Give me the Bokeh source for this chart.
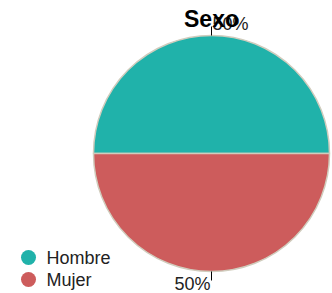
import math
from bokeh.plotting import figure
from bokeh.models import Range1d, ColumnDataSource
from bokeh.core.properties import value
from bokeh.embed import file_html
from bokeh.resources import INLINE

title = "Sexo"
categories = ["Hombre", "Mujer"]
shares = [50, 50]
colors = ["#20B2AA", "#CD5C5C"]

W, H = 332, 293
p = figure(width=W, height=H, output_backend="svg", toolbar_location=None,
           x_range=Range1d(0, W), y_range=Range1d(0, H), min_border=0)
p.axis.visible = False
p.grid.visible = False
p.outline_line_color = None
p.background_fill_color = None
p.border_fill_color = "white"

FONT = "Liberation Sans"
cx, cy, r = 211, 140, 118

total = sum(shares)
starts, ends, acc = [], [], 0.0
for s in shares:
    starts.append(math.pi - 2 * math.pi * acc / total)
    acc += s
    ends.append(math.pi - 2 * math.pi * acc / total)
src = ColumnDataSource(dict(x=[cx] * len(shares), y=[cy] * len(shares),
                            start=ends, end=starts, color=colors))
p.wedge(x="x", y="y", radius=r, start_angle="start", end_angle="end",
        fill_color="color", line_color="#d0ccbd", line_width=1.5, source=src)

# percentage labels with ticks
tx0, ty0, tx1, ty1, lx, ly, lt, al, bl = [], [], [], [], [], [], [], [], []
for s, a0, a1 in zip(shares, starts, ends):
    mid = (a0 + a1) / 2
    ux, uy = math.cos(mid), math.sin(mid)
    tx0.append(cx + r * ux); ty0.append(cy + r * uy)
    tx1.append(cx + (r + 9) * ux); ty1.append(cy + (r + 9) * uy)
    lx.append(cx + (1 if uy > 0 else -1)); ly.append(cy + (r + 2) * uy)
    lt.append(f"{s}%")
    al.append("left" if uy > 0 else "right")
    bl.append("bottom" if uy > 0 else "top")
p.segment(x0=tx0, y0=ty0, x1=tx1, y1=ty1, line_color="black", line_width=1)
p.text(x=lx, y=ly, text=lt, text_align=al, text_baseline=bl,
       text_font=value(FONT), text_font_size="18px", text_color="#222222")

p.text(x=[cx], y=[H - 5], text=[title], text_align="center", text_baseline="top",
       text_font=value(FONT), text_font_size="23px", text_font_style="bold",
       text_color="black")

# legend
ly0 = 293 - 257
leg_y = [ly0 - 22 * i for i in range(len(categories))]
p.scatter(x=[28] * len(categories), y=leg_y, size=15, marker="circle",
          fill_color=colors, line_color=None)
p.text(x=[46] * len(categories), y=leg_y, text=categories, text_baseline="middle",
       text_font=value(FONT), text_font_size="18px", text_color="#222222")

html = file_html(p, INLINE)
html = html.replace("</head>", "<style>html,body{overflow:hidden}</style></head>", 1)
open("out.html", "w").write(html)
